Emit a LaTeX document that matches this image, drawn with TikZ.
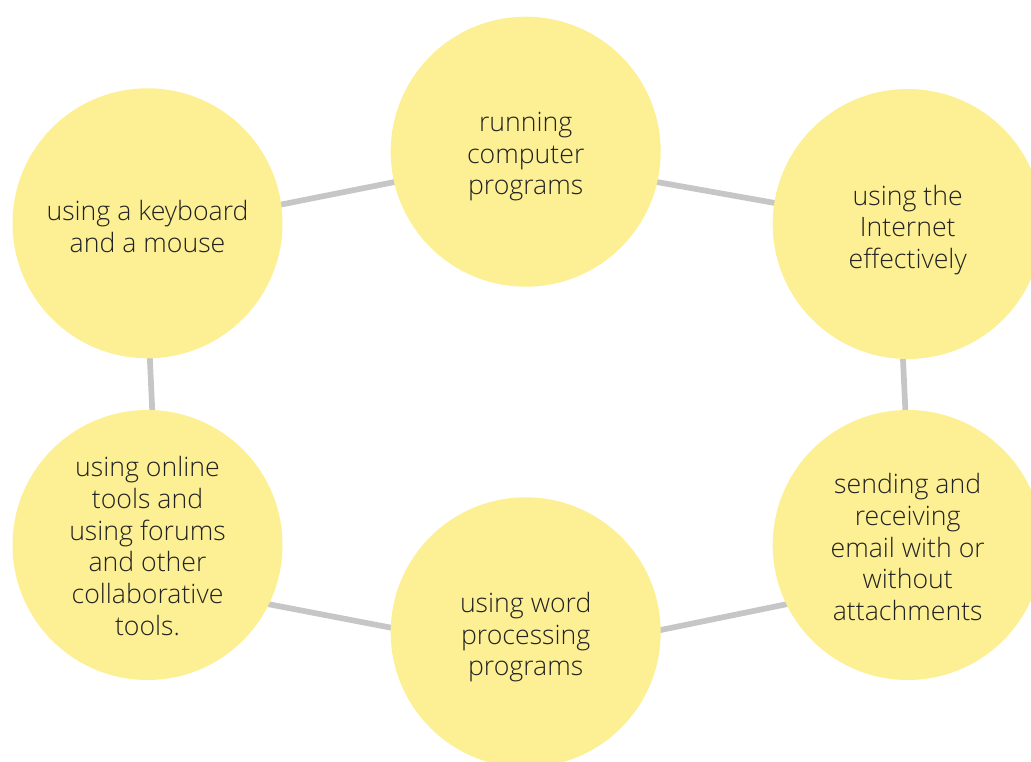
\documentclass[tikz,border=0pt]{standalone}
\usepackage{fontspec}
\setmainfont{Open Sans Light}
\usetikzlibrary{backgrounds}
\definecolor{bubblefill}{HTML}{FDF094}
\definecolor{linkgray}{HTML}{C6C6C6}
\definecolor{ink}{HTML}{222222}
\begin{document}
\begin{tikzpicture}[x=0.75pt,y=-0.75pt,
  bubble/.style={circle, fill=bubblefill, minimum size=202.5pt, inner sep=0pt},
  caption/.style={align=center, text=ink, inner sep=0pt,
    font=\fontsize{20}{23.8}\selectfont},
  link/.style={draw=linkgray, line width=4.3pt, shorten <=-3pt, shorten >=-3pt}]
\useasboundingbox (0,0) rectangle (1031,761);

% the six skill bubbles, each with its centred caption
\node[bubble, label={[caption, name=tl-text, yshift=-2.25pt]center:{using a keyboard\\and a mouse}}]
  (tl) at (147.5,223.3) {};
\node[bubble, label={[caption, name=tc-text, yshift=-3.75pt]center:{running\\computer\\programs}}]
  (tc) at (525.7,151.7) {};
\node[bubble, label={[caption, name=tr-text, yshift=-4.5pt]center:{using the\\Internet\\effectively}}]
  (tr) at (907.7,224) {};
\node[bubble, label={[caption, name=br-text, yshift=-1.5pt]center:{sending and\\receiving\\email with or\\without\\attachments}}]
  (br) at (907.7,545) {};
\node[bubble, label={[caption, name=bc-text, yshift=-3.75pt]center:{using word\\processing\\programs}}]
  (bc) at (525.7,632.3) {};
\node[bubble, label={[caption, name=bl-text, yshift=-0.75pt]center:{using online\\tools and\\using forums\\and other\\collaborative\\tools.}}]
  (bl) at (147.5,545) {};

% connectors behind the bubbles
\begin{pgfonlayer}{background}
\draw[link] (tl.8.5) -- (tc.193.2);
\draw[link] (tc.-13.1) -- (tr.171.5);
\draw[link] (tr.268.6) -- (br.91.4);
\draw[link] (br.206.4) -- (bc.1.3);
\draw[link] (bc.178.6) -- (bl.-26.4);
\draw[link] (bl.88.6) -- (tl.271.4);
\end{pgfonlayer}
\end{tikzpicture}
\end{document}
